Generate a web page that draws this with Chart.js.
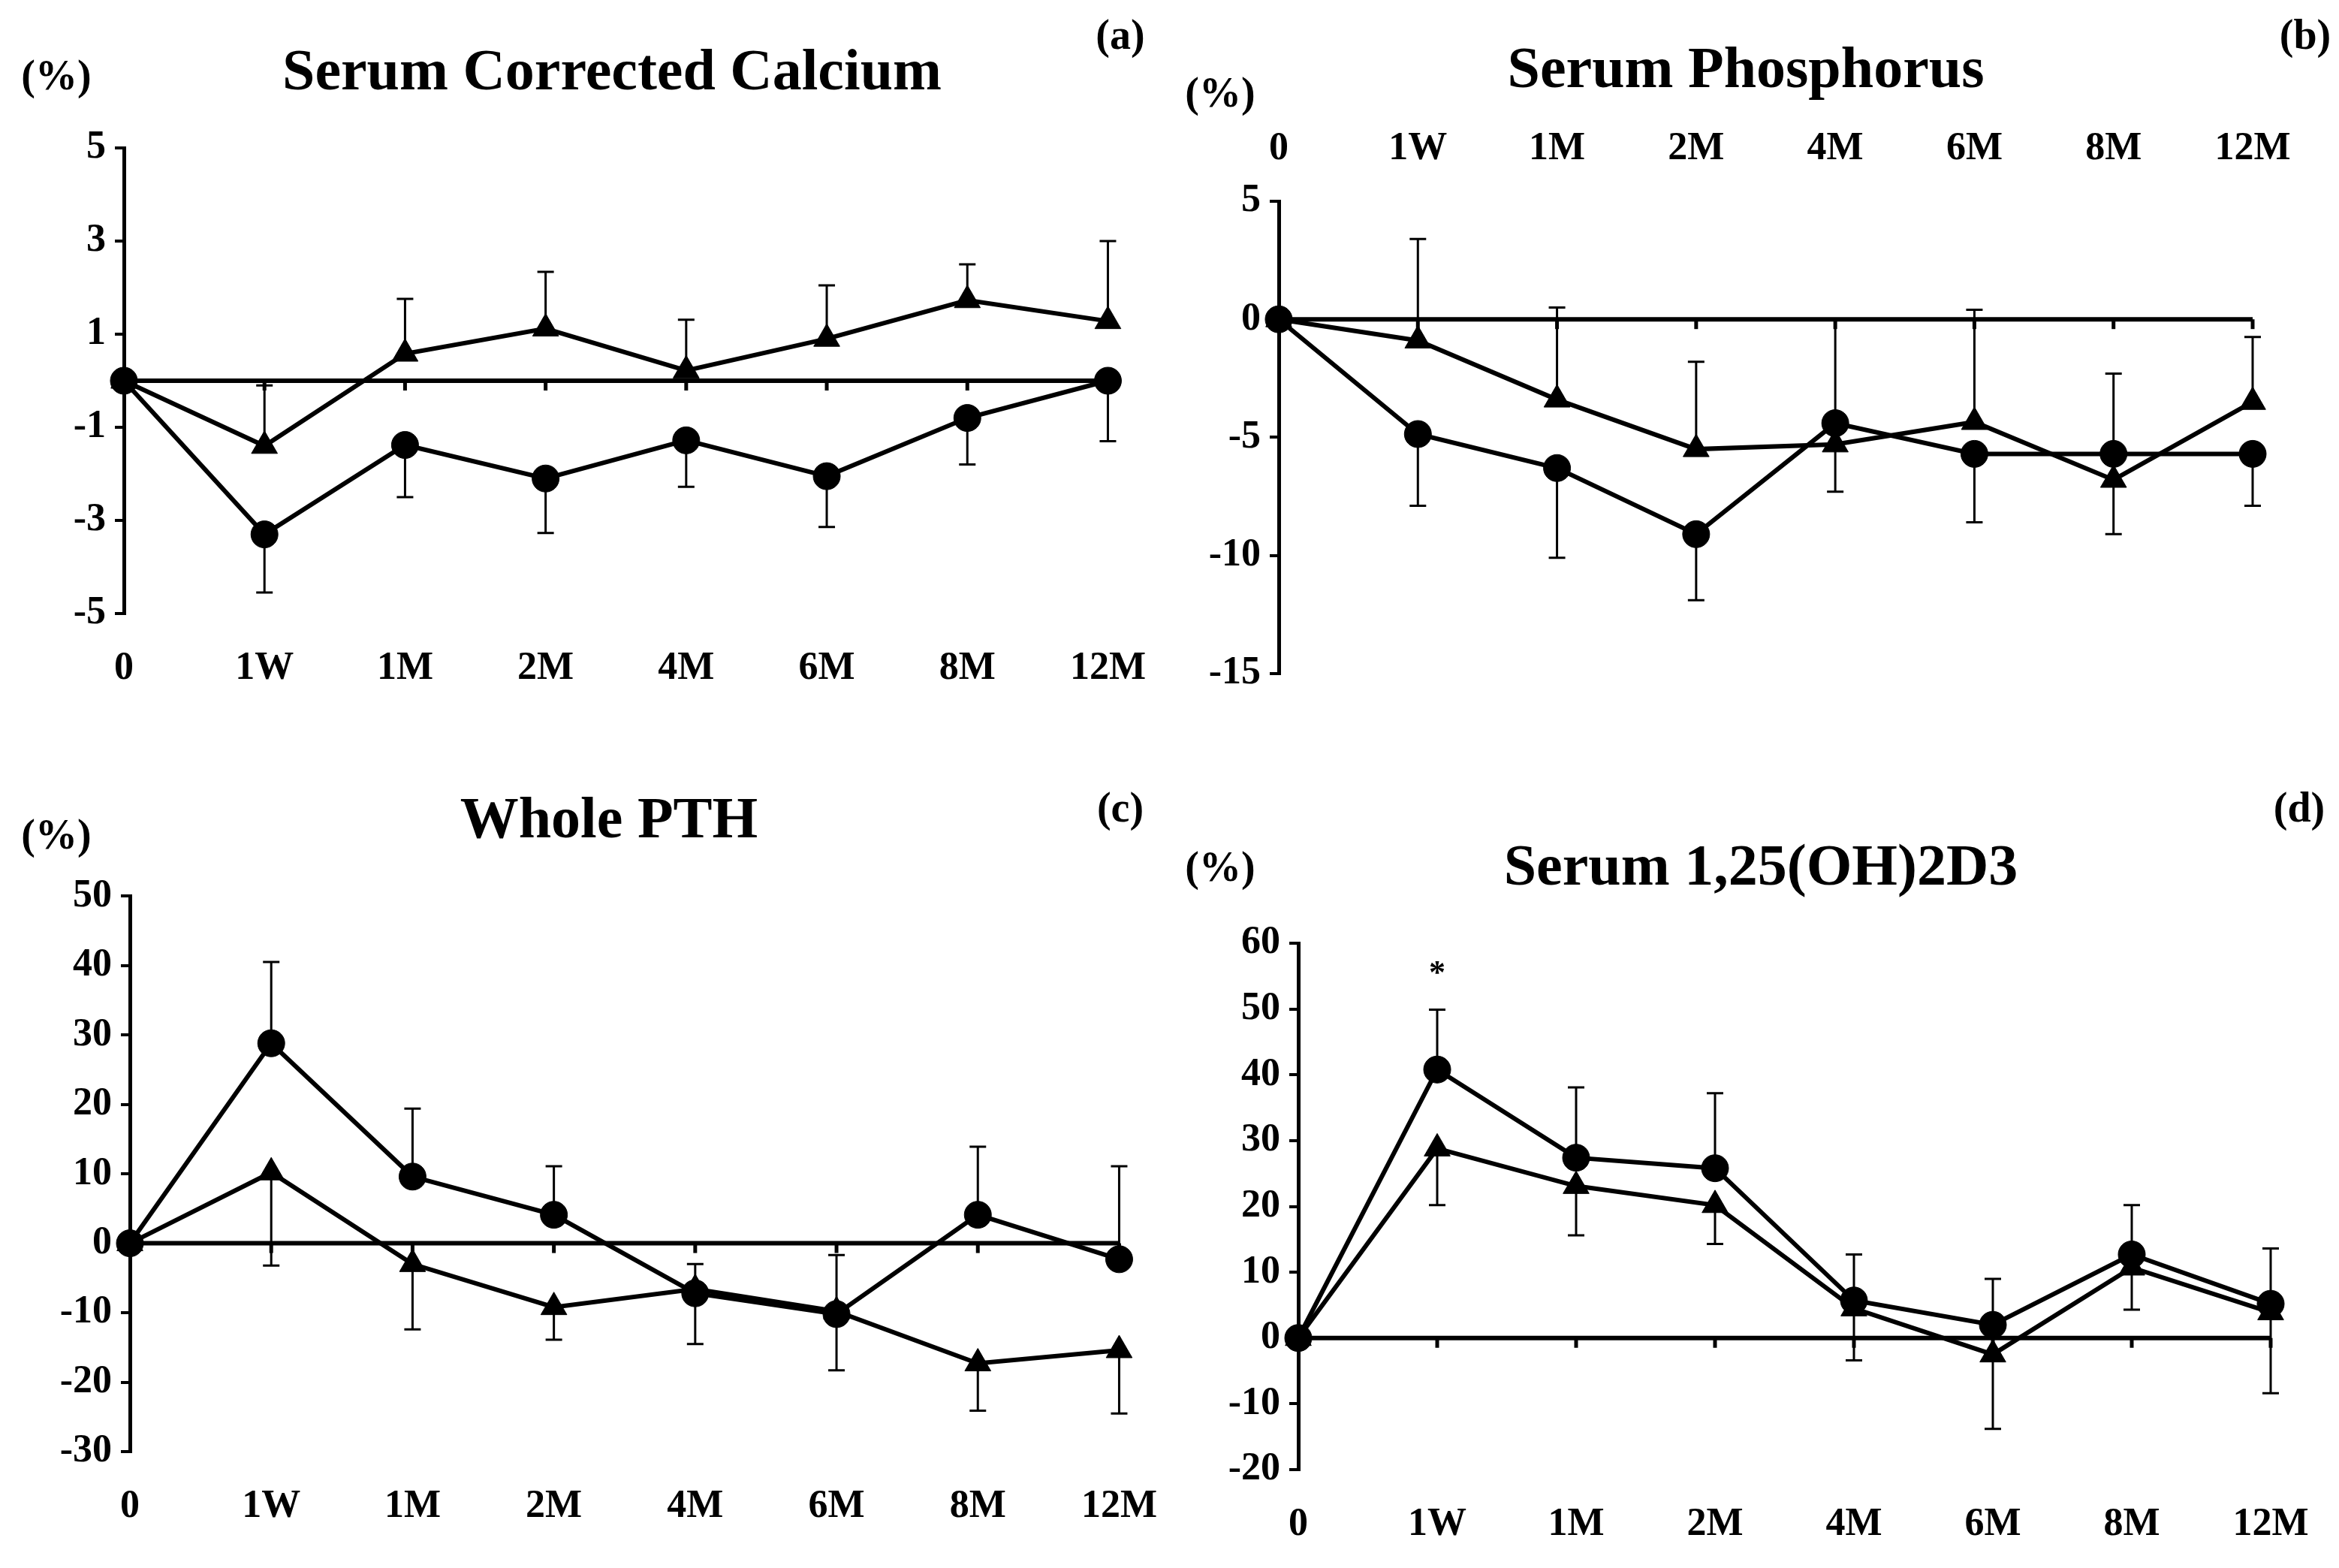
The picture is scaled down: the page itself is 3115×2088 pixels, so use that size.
<!DOCTYPE html>
<html>
<head>
<meta charset="utf-8">
<script src="https://cdn.jsdelivr.net/npm/chart.js@4/dist/chart.umd.min.js"></script>
<style>
  body { margin: 0; background: #fff; width: 3115px; height: 2088px; position: relative; overflow: hidden; }
  canvas { position: absolute; }
  .t { position: absolute; font-family: "Liberation Serif", serif; font-weight: bold; color: #000; white-space: nowrap; transform: translate(-50%, -50%); }
  .title { font-size: 78px; }
  .small { font-size: 56px; }
</style>
</head>
<body>
<canvas id="ca"></canvas>
<canvas id="cb"></canvas>
<canvas id="cc"></canvas>
<canvas id="cd"></canvas>

<div class="t title" style="left:815px;top:93px">Serum Corrected Calcium</div>
<div class="t small" style="left:75px;top:100px">(%)</div>
<div class="t small" style="left:1492px;top:46px">(a)</div>

<div class="t title" style="left:2325px;top:90px">Serum Phosphorus</div>
<div class="t small" style="left:1625px;top:123px">(%)</div>
<div class="t small" style="left:3070px;top:46px">(b)</div>

<div class="t title" style="left:811px;top:1089px">Whole PTH</div>
<div class="t small" style="left:75px;top:1111px">(%)</div>
<div class="t small" style="left:1492px;top:1075px">(c)</div>

<div class="t title" style="left:2345px;top:1152px">Serum 1,25(OH)2D3</div>
<div class="t small" style="left:1625px;top:1154px">(%)</div>
<div class="t small" style="left:3062px;top:1075px">(d)</div>

<script>
const labels = ["0", "1W", "1M", "2M", "4M", "6M", "8M", "12M"];

// (a) Serum Corrected Calcium
const caCircle = [0, -3.3, -1.38, -2.1, -1.28, -2.05, -0.8, 0];
const caCircleErr = [0, -4.55, -2.5, -3.27, -2.28, -3.14, -1.8, -1.3];
const caTri = [0, -1.4, 0.58, 1.12, 0.22, 0.9, 1.73, 1.28];
const caTriErr = [0, -0.1, 1.76, 2.34, 1.31, 2.05, 2.5, 3.0];

// (b) Serum Phosphorus
const phCircle = [0, -4.86, -6.3, -9.1, -4.4, -5.7, -5.7, -5.7];
const phCircleErr = [0, -7.9, -10.1, -11.9, -7.3, -8.6, -9.1, -7.9];
const phTri = [0, -0.9, -3.4, -5.5, -5.3, -4.35, -6.8, -3.5];
const phTriErr = [0, 3.4, 0.5, -1.8, 0, 0.4, -2.3, -0.75];

// (c) Whole PTH
const pthCircle = [0, 28.8, 9.6, 4.1, -7.2, -10.2, 4.1, -2.3];
const pthCircleErr = [0, 40.5, 19.4, 11.1, -14.5, -18.3, 13.9, 11.1];
const pthTri = [0, 10.2, -3, -9.2, -6.6, -9.8, -17.3, -15.4];
const pthTriErr = [0, -3.2, -12.4, -13.9, -3, -1.7, -24.1, -24.5];

// (d) Serum 1,25(OH)2D3
const vdCircle = [0, 40.8, 27.4, 25.8, 5.7, 2, 12.7, 5.2];
const vdCircleErr = [0, 49.9, 38.1, 37.2, 12.7, 9, 20.2, 13.6];
const vdTri = [0, 28.8, 23.1, 20.2, 4.5, -2.5, 10.7, 3.9];
const vdTriErr = [0, 20.2, 15.6, 14.3, -3.4, -13.8, 4.3, -8.4];

const FONT = { family: "Liberation Serif", size: 52, weight: "bold" };

const errorBars = {
  id: "errorBars",
  beforeDatasetsDraw(chart) {
    const ctx = chart.ctx, y = chart.scales.y;
    ctx.save();
    ctx.strokeStyle = "#000";
    ctx.lineWidth = 3;
    chart.data.datasets.forEach((ds, i) => {
      const meta = chart.getDatasetMeta(i);
      meta.data.forEach((pt, j) => {
        const end = ds.err[j];
        if (end === ds.data[j]) return;
        const ye = y.getPixelForValue(end);
        ctx.beginPath();
        ctx.moveTo(pt.x, pt.y);
        ctx.lineTo(pt.x, ye);
        ctx.moveTo(pt.x - 11, ye);
        ctx.lineTo(pt.x + 11, ye);
        ctx.stroke();
      });
    });
    ctx.restore();
  }
};

const zeroLine = {
  id: "zeroLine",
  beforeDatasetsDraw(chart, args, opts) {
    const ctx = chart.ctx, x = chart.scales.x, y = chart.scales.y;
    const y0 = y.getPixelForValue(0);
    ctx.save();
    ctx.strokeStyle = "#000";
    ctx.lineWidth = 6;
    ctx.beginPath();
    ctx.moveTo(chart.chartArea.left, y0);
    ctx.lineTo(chart.chartArea.right, y0);
    ctx.stroke();
    ctx.lineWidth = 5;
    labels.forEach((l, i) => {
      const px = x.getPixelForValue(i);
      ctx.beginPath();
      ctx.moveTo(px, y0);
      ctx.lineTo(px, y0 + 13);
      ctx.stroke();
    });
    if (opts.star) {
      ctx.fillStyle = "#000";
      ctx.font = "bold 44px Liberation Serif";
      ctx.textAlign = "center";
      ctx.fillText("*", x.getPixelForValue(opts.star[0]), y.getPixelForValue(opts.star[1]));
    }
    ctx.restore();
  }
};

function makePanel(id, p) {
  const cv = document.getElementById(id);
  cv.width = p.w; cv.height = p.h;
  cv.style.left = p.left + "px"; cv.style.top = p.top + "px";
  const top = p.xTop;
  const pad = top
    ? { top: 0, bottom: p.top + p.h - p.plotBottom, left: 0, right: p.left + p.w - p.lastX }
    : { top: p.plotTop - p.top, bottom: 0, left: 0, right: p.left + p.w - p.lastX };
  const xH = top ? p.plotTop - p.top : p.top + p.h - p.plotBottom;
  const mk = (data, err, style) => ({
    data, err,
    borderColor: "#000", backgroundColor: "#000", borderWidth: 6,
    pointStyle: style, pointRadius: style === "triangle" ? 20 : 18,
    pointBackgroundColor: "#000", pointBorderColor: "#000", pointBorderWidth: 1,
    tension: 0, clip: false
  });
  new Chart(cv, {
    type: "line",
    data: {
      labels,
      datasets: [mk(p.circle, p.circleErr, "circle"), mk(p.tri, p.triErr, "triangle")]
    },
    options: {
      responsive: false, animation: false, devicePixelRatio: 1,
      layout: { padding: pad },
      plugins: { legend: { display: false }, tooltip: { enabled: false }, zeroLine: { star: p.star } },
      scales: {
        x: {
          position: top ? "top" : "bottom", offset: false,
          grid: { display: false }, border: { display: false },
          ticks: { color: "#000", font: FONT, maxRotation: 0, padding: top ? 30 : 34 },
          afterFit: s => { s.height = xH; }
        },
        y: {
          min: p.min, max: p.max,
          grid: { drawOnChartArea: false, drawTicks: true, tickLength: 12, color: "#000", lineWidth: 4 },
          border: { display: true, color: "#000", width: 5 },
          ticks: { stepSize: p.step, color: "#000", font: FONT, padding: 12 },
          afterFit: s => { s.width = p.yAxisX - p.left; }
        }
      }
    },
    plugins: [zeroLine, errorBars]
  });
}

makePanel("ca", { left: 0, top: 150, w: 1560, h: 780, yAxisX: 165, plotTop: 197, plotBottom: 817, lastX: 1490,
  min: -5, max: 5, step: 2, circle: caCircle, circleErr: caCircleErr, tri: caTri, triErr: caTriErr });
makePanel("cb", { left: 1560, top: 150, w: 1555, h: 790, xTop: true, yAxisX: 1703, plotTop: 268, plotBottom: 898, lastX: 3000,
  min: -15, max: 5, step: 5, circle: phCircle, circleErr: phCircleErr, tri: phTri, triErr: phTriErr });
makePanel("cc", { left: 0, top: 1150, w: 1575, h: 920, yAxisX: 173, plotTop: 1188, plotBottom: 1933, lastX: 1504,
  min: -30, max: 50, step: 10, circle: pthCircle, circleErr: pthCircleErr, tri: pthTri, triErr: pthTriErr });
makePanel("cd", { left: 1575, top: 1210, w: 1540, h: 870, yAxisX: 1729, plotTop: 1256, plotBottom: 1957, lastX: 3024,
  min: -20, max: 60, step: 10, circle: vdCircle, circleErr: vdCircleErr, tri: vdTri, triErr: vdTriErr, star: [1, 54] });
</script>
</body>
</html>
